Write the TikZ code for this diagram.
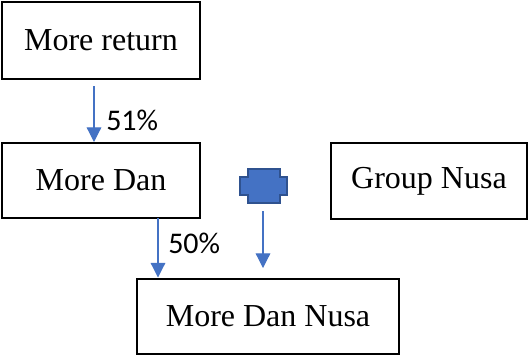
\documentclass[tikz,border=0pt]{standalone}
\usepackage{fontspec}
\setmainfont{Liberation Serif}
\newfontfamily\lblfont{Carlito}
\usetikzlibrary{arrows.meta}
\definecolor{arrowblue}{HTML}{4472C4}
\definecolor{shapeedge}{HTML}{2F528F}
\tikzset{
  boxnode/.style={draw=black, line width=1.5pt, inner sep=0pt, font=\fontsize{24}{28}\selectfont},
  flow/.style={draw=arrowblue, line width=0.9pt, -{Triangle[width=11pt,length=11pt]}},
  pct/.style={font=\lblfont\fontsize{22.5}{26}\selectfont, inner sep=0pt, anchor=west},
}
\begin{document}
\begin{tikzpicture}[x=0.75pt,y=-0.75pt]
\useasboundingbox (0,0) rectangle (528,355);
\node[boxnode, minimum width=198*0.75pt, minimum height=77*0.75pt] (ret) at (101,40.5) {More return};
\node[boxnode, minimum width=198*0.75pt, minimum height=75*0.75pt] (dan) at (101,180.5) {More Dan};
\node[boxnode, minimum width=196*0.75pt, minimum height=76*0.75pt] (grp) at (429,181) {Group Nusa};
\node[boxnode, minimum width=262*0.75pt, minimum height=75*0.75pt] (mdn) at (268,316) {More Dan Nusa};
\filldraw[fill=arrowblue, draw=shapeedge, line width=1.2pt]
  (248,169) -- (280,169) -- (280,177) -- (287,177) -- (287,195) -- (280,195) -- (280,203)
  -- (248,203) -- (248,195) -- (240,195) -- (240,177) -- (248,177) -- cycle;
\coordinate (s1) at (94,86);
\coordinate (s2) at (263,211);
\coordinate (s3) at (158,218);
\coordinate (t2) at (263,268);
\draw[flow] (s1) -- (s1 |- dan.north);
\draw[flow] (s3) -- (s3 |- mdn.north);
\draw[flow] (s2) -- (t2);
\node[pct] (l1) at (106,120) {51\%};
\node[pct] (l2) at (168,243) {50\%};
\end{tikzpicture}
\end{document}
